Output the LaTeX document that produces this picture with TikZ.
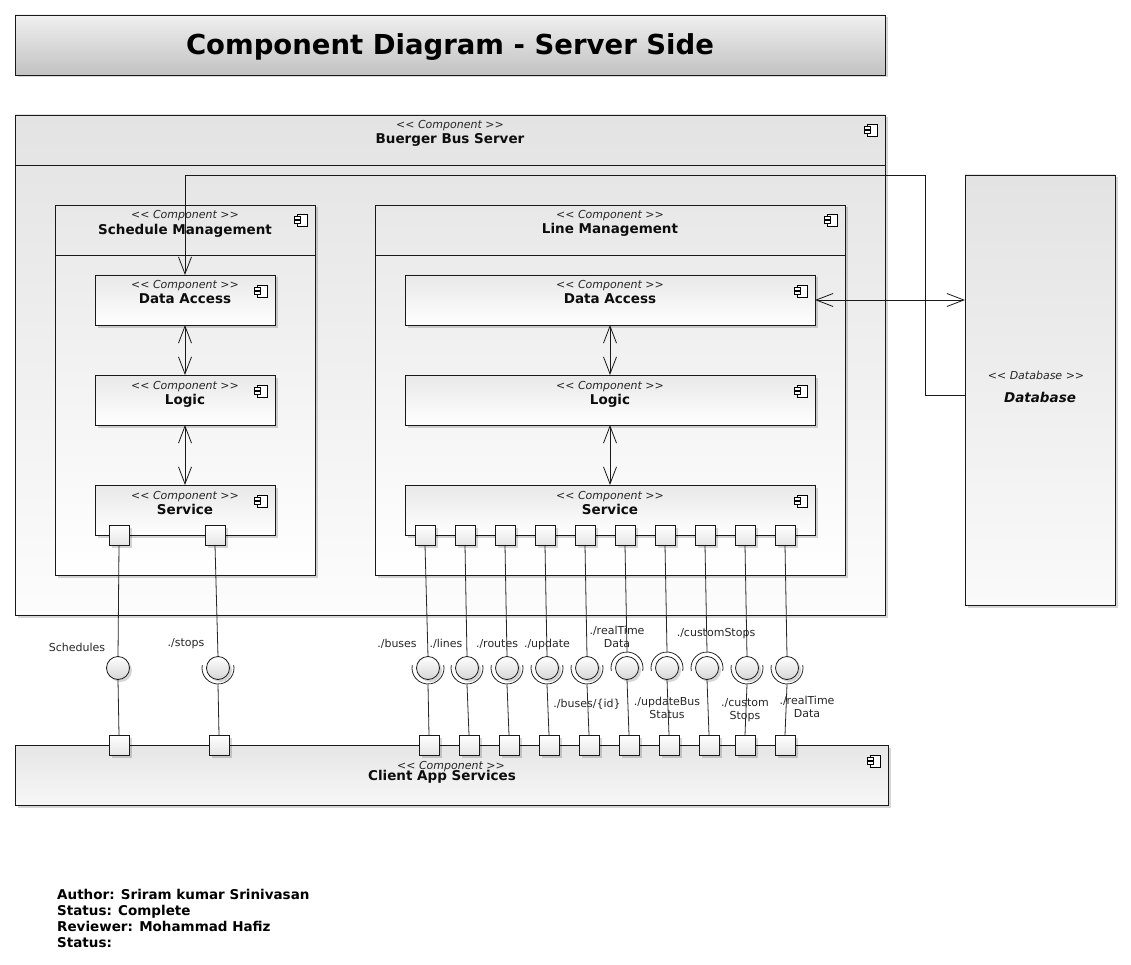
\documentclass[tikz,border=0pt]{standalone}
\usepackage{fontspec}
\setmainfont{DejaVu Sans}
\usetikzlibrary{arrows.meta,shadows}
\newcommand\stfont{\fontsize{11}{13}\selectfont\itshape}
\newcommand\nmfont{\fontsize{13.5}{16}\selectfont\bfseries}
\begin{document}
\begin{tikzpicture}[x=1pt,y=-1pt,
  shd/.style={drop shadow={shadow xshift=2.5pt,shadow yshift=-2.5pt,opacity=0.16,fill=black}},
  comp/.style={draw=black!90,line width=0.8pt,anchor=north west,inner sep=0,outer sep=0,
    top color=black!9,bottom color=white,shd},
  outer/.style={comp,top color=black!11,bottom color=black!1},
  titlebox/.style={comp,top color=black!6,bottom color=black!24},
  port/.style={draw=black!90,line width=0.8pt,minimum size=20pt,inner sep=0,outer sep=0,
    top color=white,bottom color=black!10,shd},
  iface/.style={circle,draw=black!90,line width=0.8pt,minimum size=23pt,inner sep=0,outer sep=0,
    top color=white,bottom color=black!16,shd},
  wire/.style={draw=black!85,line width=0.8pt},
  dep/.style={draw=black!90,line width=0.8pt},
  sock/.style={draw=black!85,line width=0.8pt},
  stereo/.style={font=\stfont,text=black!85,anchor=base,inner sep=0},
  cname/.style={font=\nmfont,text=black!95,anchor=base,inner sep=0},
  lab/.style={font=\fontsize{11}{13.5}\selectfont,text=black!85,align=center,inner sep=0},
  compicon/.pic={
    \draw[line width=0.7pt,fill=white] (-4,-6) rectangle (6,6);
    \draw[line width=0.7pt,fill=white] (-7,-3.5) rectangle (-1,-0.5);
    \draw[line width=0.7pt,fill=white] (-7,0.8) rectangle (-1,3.8);},
  >={Straight Barb[length=17pt,width=13pt]}
]
\useasboundingbox (0,0) rectangle (1131,965);

% title
\node[titlebox,minimum width=870pt,minimum height=60pt] (title) at (15,15) {};
\node[font=\fontsize{27.5}{30}\selectfont\bfseries,anchor=base,inner sep=0] (titletext) at (450,55) {Component Diagram - Server Side};

% Buerger Bus Server
\node[outer,minimum width=870pt,minimum height=500pt] (bbs) at (15,115) {};
\draw[dep] ([yshift=-50pt]bbs.north west) -- ([yshift=-50pt]bbs.north east);
\node[stereo] (bbsst) at ([yshift=-14pt]bbs.north) {<{}< Component >{}>};
\node[cname] (bbsnm) at ([yshift=-29pt]bbs.north) {Buerger Bus Server};
\pic at ([xshift=-14pt,yshift=-15pt]bbs.north east) {compicon};

% Schedule Management
\node[comp,minimum width=260pt,minimum height=370pt] (sm) at (55,205) {};
\draw[dep] ([yshift=-50pt]sm.north west) -- ([yshift=-50pt]sm.north east);
\node[stereo] (smst) at ([yshift=-14pt]sm.north) {<{}< Component >{}>};
\node[cname] (smnm) at ([yshift=-30pt]sm.north) {Schedule Management};
\pic at ([xshift=-14pt,yshift=-15pt]sm.north east) {compicon};

% Line Management
\node[comp,minimum width=470pt,minimum height=370pt] (lm) at (375,205) {};
\draw[dep] ([yshift=-50pt]lm.north west) -- ([yshift=-50pt]lm.north east);
\node[stereo] (lmst) at ([yshift=-14pt]lm.north) {<{}< Component >{}>};
\node[cname] (lmnm) at ([yshift=-29pt]lm.north) {Line Management};
\pic at ([xshift=-14pt,yshift=-15pt]lm.north east) {compicon};

% inner components
\foreach \n/\x/\y/\w/\t in {sda/95/275/180/Data Access, slog/95/375/180/Logic, ssvc/95/485/180/Service,
  lda/405/275/410/Data Access, llog/405/375/410/Logic, lsvc/405/485/410/Service}{
  \node[comp,minimum width=\w pt,minimum height=50pt] (\n) at (\x,\y) {};
  \node[stereo] (\n st) at ([yshift=-14pt]\n.north) {<{}< Component >{}>};
  \node[cname] (\n nm) at ([yshift=-29pt]\n.north) {\t};
  \pic at ([xshift=-14pt,yshift=-16pt]\n.north east) {compicon};
}

% Database
\node[comp,top color=black!11,bottom color=black!2,minimum width=150pt,minimum height=430pt] (db) at (965,175) {};
\node[stereo] (dbst) at (1036,379) {<{}< Database >{}>};
\node[cname,font=\fontsize{13.5}{16}\selectfont\bfseries\itshape] (dbnm) at (1040,402) {Database};

% Client App Services
\node[comp,top color=black!10,bottom color=black!3,minimum width=873pt,minimum height=60pt] (cas) at (15,745) {};
\node[stereo] (casst) at (451,769) {<{}< Component >{}>};
\node[cname] (casnm) at (442,780) {Client App Services};
\pic at ([xshift=-14pt,yshift=-16pt]cas.north east) {compicon};

% dependencies
\draw[dep,<->] (sda.south) -- (slog.north);
\draw[dep,<->] (slog.south) -- (ssvc.north);
\draw[dep,<->] (lda.south) -- (llog.north);
\draw[dep,<->] (llog.south) -- (lsvc.north);
\draw[dep,<->] (lda.east) -- (lda.east -| db.west);
\draw[dep,->] ([yshift=-5pt]db.west) -- ++(-40,0) -- ++(0,-220) -| (sda.north);

% ports and interfaces: Schedule Management
\node[port] (sp1) at (119,535) {};
\node[port] (sp2) at (215,535) {};
\node[port] (cp1) at (119,745) {};
\node[port] (cp2) at (219,745) {};
\node[iface] (if1) at (118,668) {};
\node[iface] (if2) at (218,668) {};
\draw[sock] (if2) ++(-10:16) arc[start angle=-10,end angle=190,radius=16];
\draw[wire] (sp1.south) -- (if1.north);
\draw[wire] (if1.south) -- (cp1.north);
\draw[wire] (sp2.south) -- (if2.north);
\draw[wire] ([yshift=-5pt]if2.south) -- (cp2.north);

% ports and interfaces: Line Management
\foreach \i/\sx/\ix/\cx/\up in {1/425/428/429/0,2/465/467/469/0,3/505/507/509/0,4/545/547/549/0,
  5/585/587/589/0,6/625/627/629/1,7/665/667/669/1,8/705/707/709/1,9/745/747/745/0,10/785/787/785/0}{
  \node[port] (lp\i) at (\sx,535) {};
  \node[port] (lc\i) at (\cx,745) {};
  \node[iface] (li\i) at (\ix,668) {};
  \ifnum\up=1
    \draw[sock] (li\i) ++(170:16) arc[start angle=170,end angle=370,radius=16];
    \draw[wire] (lp\i.south) -- ([yshift=5pt]li\i.north);
    \draw[wire] (li\i.south) -- (lc\i.north);
  \else
    \draw[sock] (li\i) ++(-10:16) arc[start angle=-10,end angle=190,radius=16];
    \draw[wire] (lp\i.south) -- (li\i.north);
    \draw[wire] ([yshift=-5pt]li\i.south) -- (lc\i.north);
  \fi
}

% interface labels
\node[lab] (l1) at (77,647) {Schedules};
\node[lab] (l2) at (186,644) {./stops};
\node[lab] (l3) at (397,644) {./buses};
\node[lab] (l4) at (446,644) {./lines};
\node[lab] (l5) at (497,644) {./routes};
\node[lab] (l6) at (547,644) {./update};
\node[lab] (l7) at (617,637) {./realTime\\Data};
\node[lab] (l8) at (716,634) {./customStops};
\node[lab] (l9) at (587,704) {./buses/\{id\}};
\node[lab] (l10) at (667,708) {./updateBus\\Status};
\node[lab] (l11) at (745,710) {./custom\\Stops};
\node[lab] (l12) at (807,707) {./realTime\\Data};

% footer
\node[anchor=north west,inner sep=0,align=left,font=\fontsize{13.5}{16}\selectfont\bfseries] (footer) at (57,889)
  {Author: Sriram kumar Srinivasan\\Status: Complete\\Reviewer: Mohammad Hafiz\\Status:};
\end{tikzpicture}
\end{document}
